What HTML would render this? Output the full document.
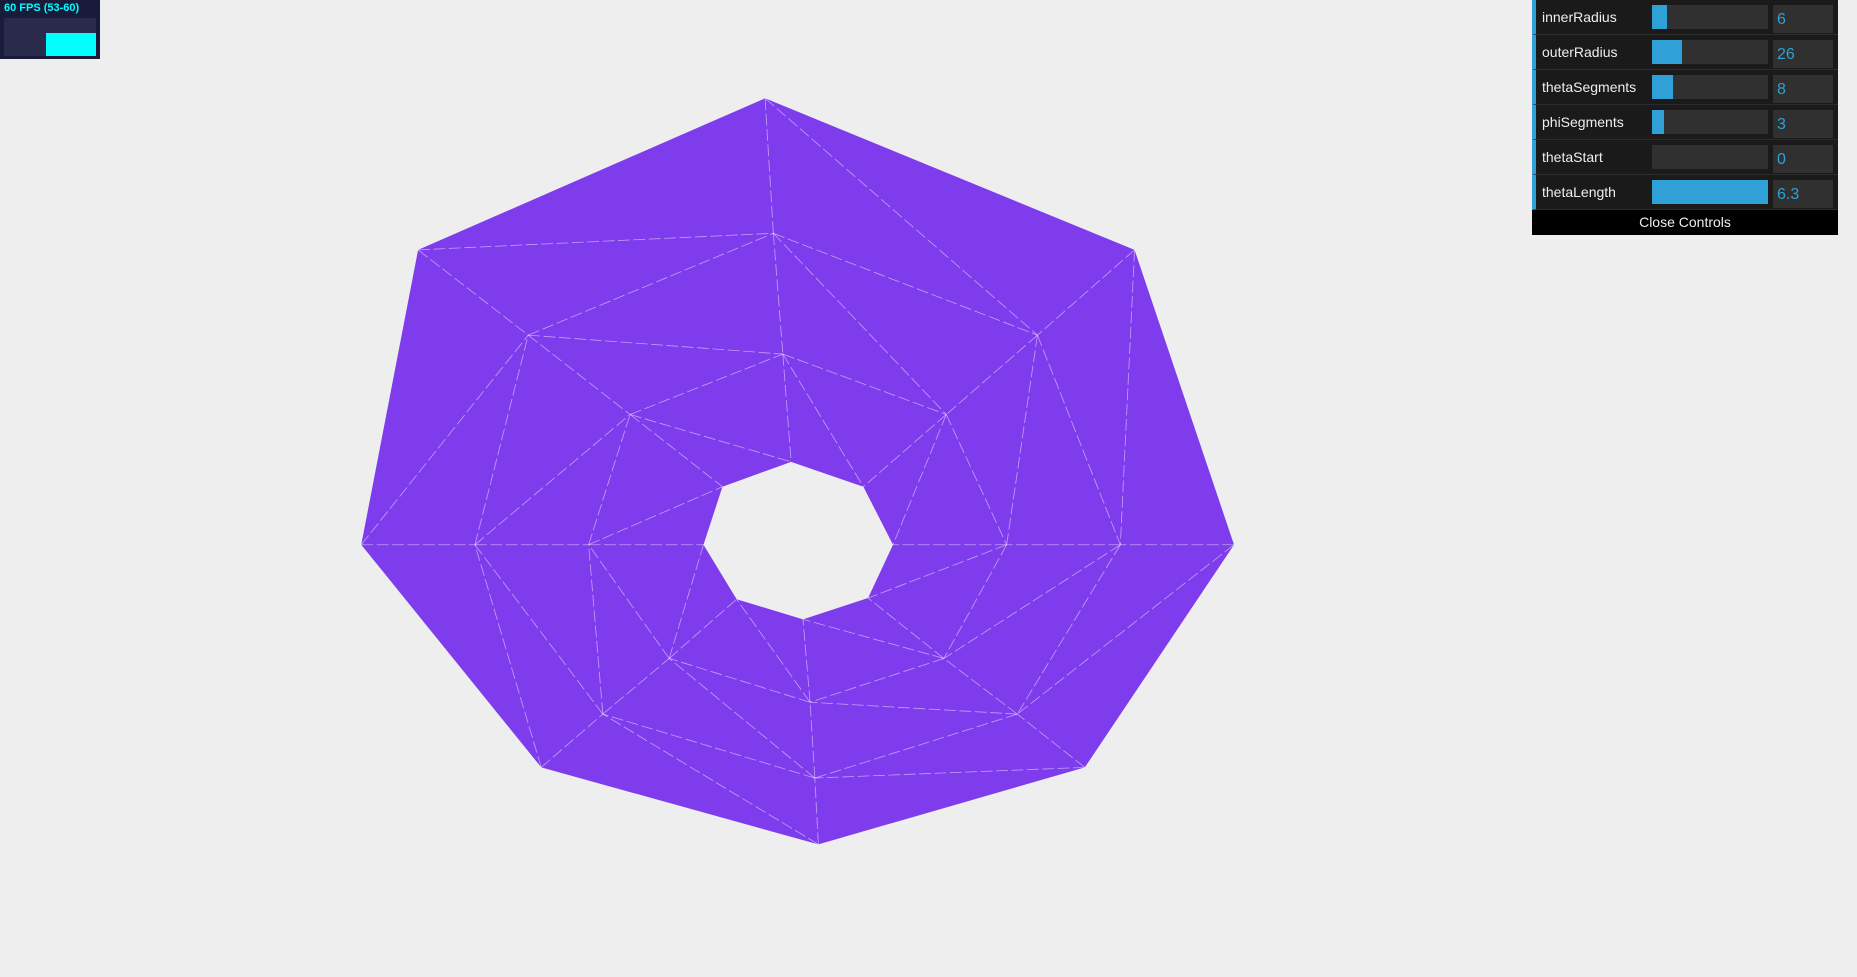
<!DOCTYPE html>
<html><head><meta charset="utf-8"><style>
body{margin:0;width:1857px;height:977px;background:#eeeeee;overflow:hidden;font-family:"Liberation Sans",sans-serif;position:relative}
#stats{position:absolute;left:0;top:0;width:100px;height:59px;background:#1a1a3a}
#stats .t{position:absolute;left:4px;top:2px;color:#0ff;font-size:11px;font-weight:bold}
#stats .g{position:absolute;left:4px;top:18px;width:92px;height:38px;background:#2a2a4a}
#stats .b{position:absolute;left:42px;top:15px;width:50px;height:23px;background:#0ff}
#gui{position:absolute;left:1532px;top:0;width:306px;background:#1a1a1a}
.row{position:relative;height:34px;border-bottom:1px solid #2c2c2c;border-left:4px solid #2fa1d6}
.row .l{position:absolute;left:6px;top:9px;color:#eee;font-size:14px}
.row .s{position:absolute;left:116px;top:5px;width:116px;height:24px;background:#303030}
.row .f{height:100%;background:#2fa1d6}
.row .v{position:absolute;left:237px;top:5px;width:60px;height:28px;background:#303030;color:#2fa1d6;font-size:16px;line-height:30px;padding-left:4px;box-sizing:border-box}
.close{height:25px;background:#000;color:#eee;text-align:center;font-size:14px;line-height:25px}
</style></head><body>
<svg id="ring" width="1857" height="977" viewBox="0 0 1568 825" style="position:absolute;left:0;top:0"></svg>
<div id="stats"><div class="t">60 FPS (53-60)</div><div class="g"><div class="b"></div></div></div>
<div id="gui">
<div class="row"><span class="l">innerRadius</span><div class="s"><div class="f" style="width:15px"></div></div><div class="v">6</div></div>
<div class="row"><span class="l">outerRadius</span><div class="s"><div class="f" style="width:30px"></div></div><div class="v">26</div></div>
<div class="row"><span class="l">thetaSegments</span><div class="s"><div class="f" style="width:21px"></div></div><div class="v">8</div></div>
<div class="row"><span class="l">phiSegments</span><div class="s"><div class="f" style="width:12px"></div></div><div class="v">3</div></div>
<div class="row"><span class="l">thetaStart</span><div class="s"><div class="f" style="width:0"></div></div><div class="v">0</div></div>
<div class="row"><span class="l">thetaLength</span><div class="s"><div class="f" style="width:116px"></div></div><div class="v">6.3</div></div>
<div class="close">Close Controls</div>
</div>
<script>
const ring0=[[646,83],[958,211],[1042,460],[916,648],[691,713],[457,648],[305,460],[353,211]];
const ring1=[[653,197],[876,283],[946,460],[859,603],[688,657],[509,603],[401,460],[446,283]];
const ring2=[[661,299],[799,350],[850,460],[797,556],[684,593],[565,556],[497,460],[532,350]];
const ring3=[[668,390],[729,411],[754,460],[733,505],[678,523],[622,506],[594,460],[610,411]];
const rings=[ring0,ring1,ring2,ring3];
const svg=document.getElementById('ring');
const NS='http://www.w3.org/2000/svg';
const n=ring0.length;
let d='M'+ring0.map(p=>p.join(',')).join('L')+'Z M'+ring3.slice().reverse().map(p=>p.join(',')).join('L')+'Z';
const fill=document.createElementNS(NS,'path');
fill.setAttribute('d',d);fill.setAttribute('fill','#7f3ced');fill.setAttribute('fill-rule','evenodd');


svg.appendChild(fill);
function line(a,b){const l=document.createElementNS(NS,'line');
l.setAttribute('x1',a[0]);l.setAttribute('y1',a[1]);l.setAttribute('x2',b[0]);l.setAttribute('y2',b[1]);
l.setAttribute('stroke','rgba(255,255,255,0.5)');l.setAttribute('stroke-width','0.7');l.setAttribute('stroke-dasharray','10 3');


svg.appendChild(l);}
for(let i=0;i<rings.length-1;i++){for(let j=0;j<n;j++){const k=(j+1)%n;
if(i>0)line(rings[i][j],rings[i][k]);
line(rings[i][j],rings[i+1][j]);
line(rings[i][j],rings[i+1][k]);}}
</script>
</body></html>
